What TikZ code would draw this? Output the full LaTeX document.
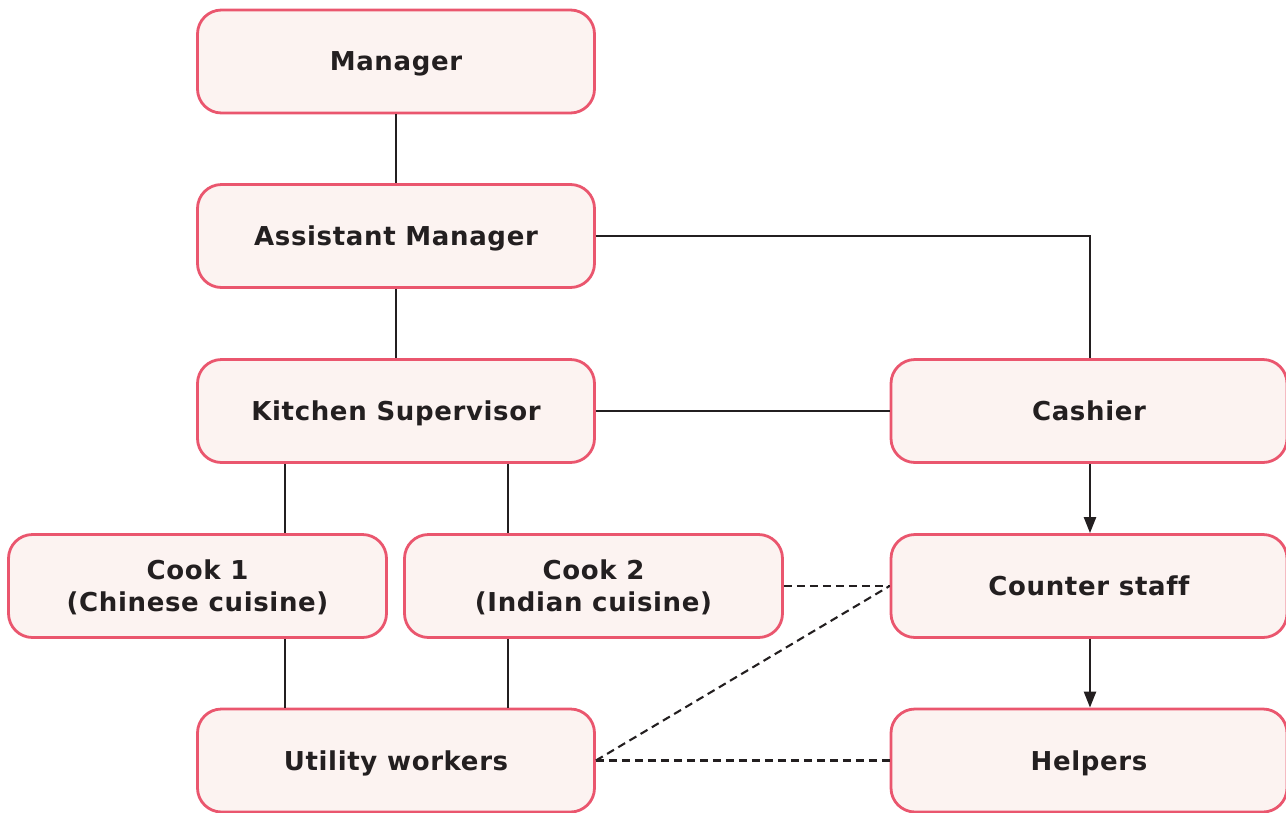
\documentclass[tikz,border=0pt]{standalone}
\usepackage{fontspec}
\setmainfont{DejaVu Sans}[LetterSpace=2.5,Ligatures=NoCommon]
\usetikzlibrary{arrows.meta}
\definecolor{boxline}{RGB}{234,86,110}
\definecolor{boxfill}{RGB}{252,243,241}
\definecolor{ink}{RGB}{35,31,32}
\begin{document}
\begin{tikzpicture}[x=1pt,y=-1pt,
  rolebox/.style={draw=boxline,fill=boxfill,line width=2.8pt,rounded corners=24pt,
    minimum width=397pt,minimum height=103pt,align=center,text=ink,text depth=0pt,
    font=\fontsize{26}{32}\selectfont\bfseries},
  cookbox/.style={rolebox,minimum width=378pt},
  link/.style={draw=ink,line width=2.4pt},
  dotted link/.style={draw=ink,line width=2.1pt,dash pattern=on 8pt off 5pt},
  arrowlink/.style={link,-{Triangle[length=16pt,width=12pt]}}]
\useasboundingbox (0,0) rectangle (1286,812);
% boxes
\node[rolebox] (mgr) at (396,61.5) {Manager};
\node[rolebox] (asst) at (396,236) {Assistant Manager};
\node[rolebox] (kit) at (396,411) {Kitchen Supervisor};
\node[rolebox,minimum width=396pt] (cash) at (1089,411) {Cashier};
\node[cookbox] (cook1) at (197.5,586) {Cook 1\\(Chinese cuisine)};
\node[cookbox] (cook2) at (593.5,586) {Cook 2\\(Indian cuisine)};
\node[rolebox,minimum width=396pt] (counter) at (1089,586) {Counter staff};
\node[rolebox] (util) at (396,760.5) {Utility workers};
\node[rolebox,minimum width=396pt] (help) at (1089,760.5) {Helpers};
% branch columns
\coordinate (colA) at (285,0);
\coordinate (colB) at (508,0);
\coordinate (colC) at (1090,0);
% solid links
\draw[link] (mgr) -- (asst);
\draw[link] (asst) -- (kit);
\draw[link] (asst.east) -- (asst.east -| colC) -- (cash.north -| colC);
\draw[link] (kit) -- (cash);
\draw[link] (kit.south -| colA) -- (cook1.north -| colA);
\draw[link] (kit.south -| colB) -- (cook2.north -| colB);
\draw[link] (cook1.south -| colA) -- (util.north -| colA);
\draw[link] (cook2.south -| colB) -- (util.north -| colB);
\draw[arrowlink] (cash.south -| colC) -- (counter.north -| colC);
\draw[arrowlink] (counter.south -| colC) -- (help.north -| colC);
% dashed links
\draw[dotted link] (cook2.east) -- (counter.west);
\draw[dotted link] (util.east) -- (counter.west);
\draw[dotted link] (util.east) -- (help.west);
\end{tikzpicture}
\end{document}
